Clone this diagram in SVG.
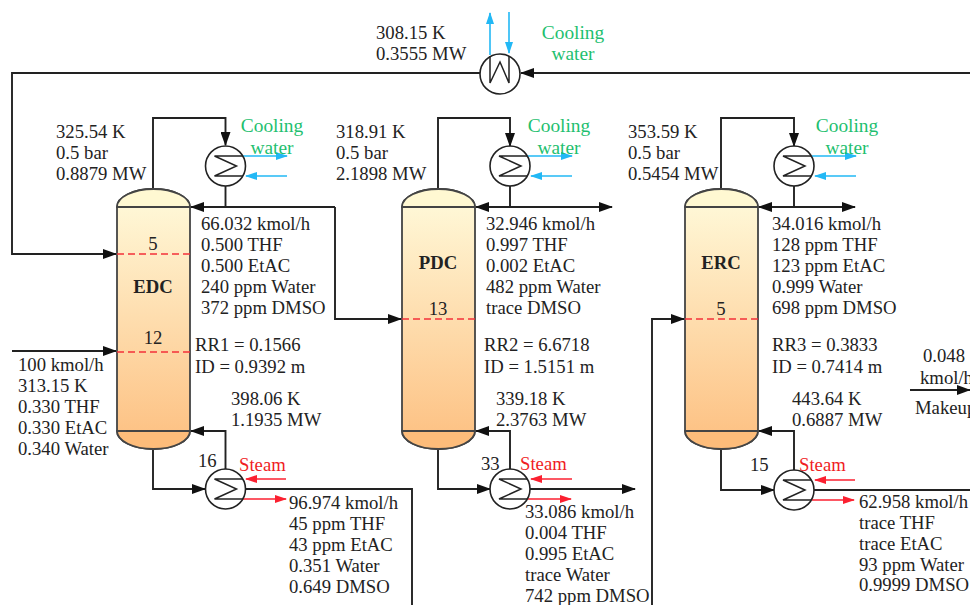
<svg xmlns="http://www.w3.org/2000/svg" width="970" height="605" viewBox="0 0 970 605">
<style>
text{font-family:"Liberation Serif","Times New Roman",serif;font-size:18.7px;fill:#222}
.b{font-weight:bold}
.g{fill:#1fbf70;font-size:19.4px}
.r{fill:#f01c24}
.ln{fill:none;stroke:#222;stroke-width:1.9}
.blue{fill:none;stroke:#22b8f5;stroke-width:1.6}
.red{fill:none;stroke:#fb2030;stroke-width:1.6}
.dash{fill:none;stroke:#f4303a;stroke-width:1.4;stroke-dasharray:7 4}
.col{stroke:#444;stroke-width:1.8}
.hx{fill:#fff;stroke:#222;stroke-width:1.6}
.coil{fill:none;stroke:#222;stroke-width:1.5}
</style>
<defs>
<linearGradient id="grad" x1="0" y1="0" x2="0" y2="1"><stop offset="0" stop-color="#fffbdc"/><stop offset="1" stop-color="#fdbf80"/></linearGradient>
<marker id="k" markerUnits="userSpaceOnUse" markerWidth="14" markerHeight="10" refX="13" refY="5" orient="auto-start-reverse"><path d="M0 0L14 5L0 10Z" fill="#111"/></marker>
<marker id="c" markerUnits="userSpaceOnUse" markerWidth="12" markerHeight="8" refX="11" refY="4" orient="auto"><path d="M0 0L12 4L0 8Z" fill="#22b8f5"/></marker>
<marker id="d" markerUnits="userSpaceOnUse" markerWidth="12" markerHeight="8" refX="11" refY="4" orient="auto"><path d="M0 0L12 4L0 8Z" fill="#fb2030"/></marker>
<g id="column"><path d="M0 18A36.5 18 0 0 1 73 18V242A36.5 18 0 0 1 0 242Z" fill="url(#grad)" class="col"/><path d="M0 18A36.5 18 0 0 1 73 18Z" fill="#fff8d2" class="col"/><path d="M0 242H73A36.5 18 0 0 1 0 242Z" fill="#fdbc7a" class="col"/></g>
<g id="cond"><circle r="20" class="hx"/><path d="M17.300 -10H-11L11 0L-11 10H17.300" class="coil"/></g>
</defs>

<g id="connectors">
<path class="ln" d="M480 73H12V254H116" marker-end="url(#k)"/>
<path class="ln" d="M970 73H521" marker-end="url(#k)"/>
<path class="ln" d="M12 351H116" marker-end="url(#k)"/>
<path class="ln" d="M153 189V118H225.500V145" marker-end="url(#k)"/>
<path class="ln" d="M335 207H191" marker-end="url(#k)"/>
<path class="ln" d="M225.500 185V207"/>
<path class="ln" d="M335 207V319H401" marker-end="url(#k)"/>
<path class="ln" d="M153 449V489H205" marker-end="url(#k)"/>
<path class="ln" d="M225.500 469V431H191" marker-end="url(#k)"/>
<path class="ln" d="M245.500 489H412V605"/>
<path class="ln" d="M438 189V118H510V146" marker-end="url(#k)"/>
<path class="ln" d="M476 207H612" marker-start="url(#k)" marker-end="url(#k)"/>
<path class="ln" d="M510 186V207"/>
<path class="ln" d="M438 449V489H490" marker-end="url(#k)"/>
<path class="ln" d="M510 469V431H476" marker-end="url(#k)"/>
<path class="ln" d="M530 489H635" marker-end="url(#k)"/>
<path class="ln" d="M721 189V118H794V146" marker-end="url(#k)"/>
<path class="ln" d="M759 207H855" marker-start="url(#k)" marker-end="url(#k)"/>
<path class="ln" d="M794 186V207"/>
<path class="ln" d="M721 449V490H774" marker-end="url(#k)"/>
<path class="ln" d="M794 470V431H759" marker-end="url(#k)"/>
<path class="ln" d="M814 490H970"/>
<path class="ln" d="M652 605V319H684" marker-end="url(#k)"/>
<path class="ln" d="M910 390H970" marker-end="url(#k)"/>
<path class="blue" d="M490 55V13" marker-end="url(#c)"/>
<path class="blue" d="M509 12V53" marker-end="url(#c)"/>
<path class="blue" d="M243 156H287" marker-end="url(#c)"/>
<path class="blue" d="M287 176H246" marker-end="url(#c)"/>
<path class="blue" d="M528 156H572" marker-end="url(#c)"/>
<path class="blue" d="M572 176H531" marker-end="url(#c)"/>
<path class="blue" d="M812 156H856" marker-end="url(#c)"/>
<path class="blue" d="M856 176H815" marker-end="url(#c)"/>
<path class="red" d="M286 479H246" marker-end="url(#d)"/>
<path class="red" d="M243 499H286" marker-end="url(#d)"/>
<path class="red" d="M572 479H531" marker-end="url(#d)"/>
<path class="red" d="M528 499H571" marker-end="url(#d)"/>
<path class="red" d="M855 480H815" marker-end="url(#d)"/>
<path class="red" d="M812 500H854" marker-end="url(#d)"/>
</g>

<g id="EDC"><use href="#column" x="117" y="189"/><path class="dash" d="M117 254H190M117 352H190"/>
<text x="153" y="250" text-anchor="middle">5</text><text x="153" y="344" text-anchor="middle">12</text><text x="153" y="293" text-anchor="middle" class="b">EDC</text></g>
<g id="PDC"><use href="#column" x="402" y="189"/><path class="dash" d="M402 319H475"/>
<text x="438" y="315" text-anchor="middle">13</text><text x="438" y="269" text-anchor="middle" class="b">PDC</text></g>
<g id="ERC"><use href="#column" x="685" y="189"/><path class="dash" d="M685 319H758"/>
<text x="721" y="315" text-anchor="middle">5</text><text x="721" y="269" text-anchor="middle" class="b">ERC</text></g>

<g id="HX-top"><circle cx="500" cy="74" r="20" class="hx"/><path d="M490 56V83L500 62L509 83V56" class="coil"/></g>
<g id="COND1"><use href="#cond" x="225.500" y="166"/></g>
<g id="COND2"><use href="#cond" x="510" y="166"/></g>
<g id="COND3"><use href="#cond" x="794" y="166"/></g>
<g id="REB1"><use href="#cond" x="225.500" y="489"/></g>
<g id="REB2"><use href="#cond" x="510" y="489"/></g>
<g id="REB3"><use href="#cond" x="794" y="490"/></g>

<g id="labels">
<text x="376" y="39">308.15 K</text><text x="376" y="60">0.3555 MW</text>
<text x="573" y="39" class="g" text-anchor="middle">Cooling</text><text x="573" y="60" class="g" text-anchor="middle">water</text>
<text x="272" y="132" class="g" text-anchor="middle">Cooling</text><text x="272" y="154" class="g" text-anchor="middle">water</text>
<text x="559" y="132" class="g" text-anchor="middle">Cooling</text><text x="559" y="154" class="g" text-anchor="middle">water</text>
<text x="847" y="132" class="g" text-anchor="middle">Cooling</text><text x="847" y="154" class="g" text-anchor="middle">water</text>
<text x="56" y="138">325.54 K</text><text x="56" y="159">0.5 bar</text><text x="56" y="180">0.8879 MW</text>
<text x="336" y="138">318.91 K</text><text x="336" y="159">0.5 bar</text><text x="336" y="180">2.1898 MW</text>
<text x="628" y="138">353.59 K</text><text x="628" y="159">0.5 bar</text><text x="628" y="180">0.5454 MW</text>
<text x="201" y="230">66.032 kmol/h</text><text x="201" y="251">0.500 THF</text><text x="201" y="272">0.500 EtAC</text><text x="201" y="293">240 ppm Water</text><text x="201" y="314">372 ppm DMSO</text>
<text x="486" y="230">32.946 kmol/h</text><text x="486" y="251">0.997 THF</text><text x="486" y="272">0.002 EtAC</text><text x="486" y="293">482 ppm Water</text><text x="486" y="314">trace DMSO</text>
<text x="772" y="230">34.016 kmol/h</text><text x="772" y="251">128 ppm THF</text><text x="772" y="272">123 ppm EtAC</text><text x="772" y="293">0.999 Water</text><text x="772" y="314">698 ppm DMSO</text>
<text x="195" y="351">RR1 = 0.1566</text><text x="195" y="373">ID = 0.9392 m</text>
<text x="484" y="351">RR2 = 6.6718</text><text x="484" y="373">ID = 1.5151 m</text>
<text x="772" y="351">RR3 = 0.3833</text><text x="772" y="373">ID = 0.7414 m</text>
<text x="18" y="371">100 kmol/h</text><text x="18" y="392">313.15 K</text><text x="18" y="413">0.330 THF</text><text x="18" y="434">0.330 EtAC</text><text x="18" y="455">0.340 Water</text>
<text x="231" y="405">398.06 K</text><text x="231" y="426">1.1935 MW</text>
<text x="496" y="405">339.18 K</text><text x="496" y="426">2.3763 MW</text>
<text x="792" y="405">443.64 K</text><text x="792" y="426">0.6887 MW</text>
<text x="923" y="362">0.048</text><text x="920" y="384">kmol/h</text><text x="915" y="414">Makeup</text>
<text x="198" y="467">16</text><text x="481" y="470">33</text><text x="750" y="471">15</text>
<text x="239" y="471" class="r">Steam</text><text x="520" y="470" class="r">Steam</text><text x="799" y="471" class="r">Steam</text>
<text x="289" y="509">96.974 kmol/h</text><text x="289" y="530">45 ppm THF</text><text x="289" y="551">43 ppm EtAC</text><text x="289" y="572">0.351 Water</text><text x="289" y="593">0.649 DMSO</text>
<text x="525" y="518">33.086 kmol/h</text><text x="525" y="539">0.004 THF</text><text x="525" y="560">0.995 EtAC</text><text x="525" y="581">trace Water</text><text x="525" y="602">742 ppm DMSO</text>
<text x="859" y="508">62.958 kmol/h</text><text x="859" y="529">trace THF</text><text x="859" y="550">trace EtAC</text><text x="859" y="571">93 ppm Water</text><text x="859" y="591">0.9999 DMSO</text>
</g>
</svg>
